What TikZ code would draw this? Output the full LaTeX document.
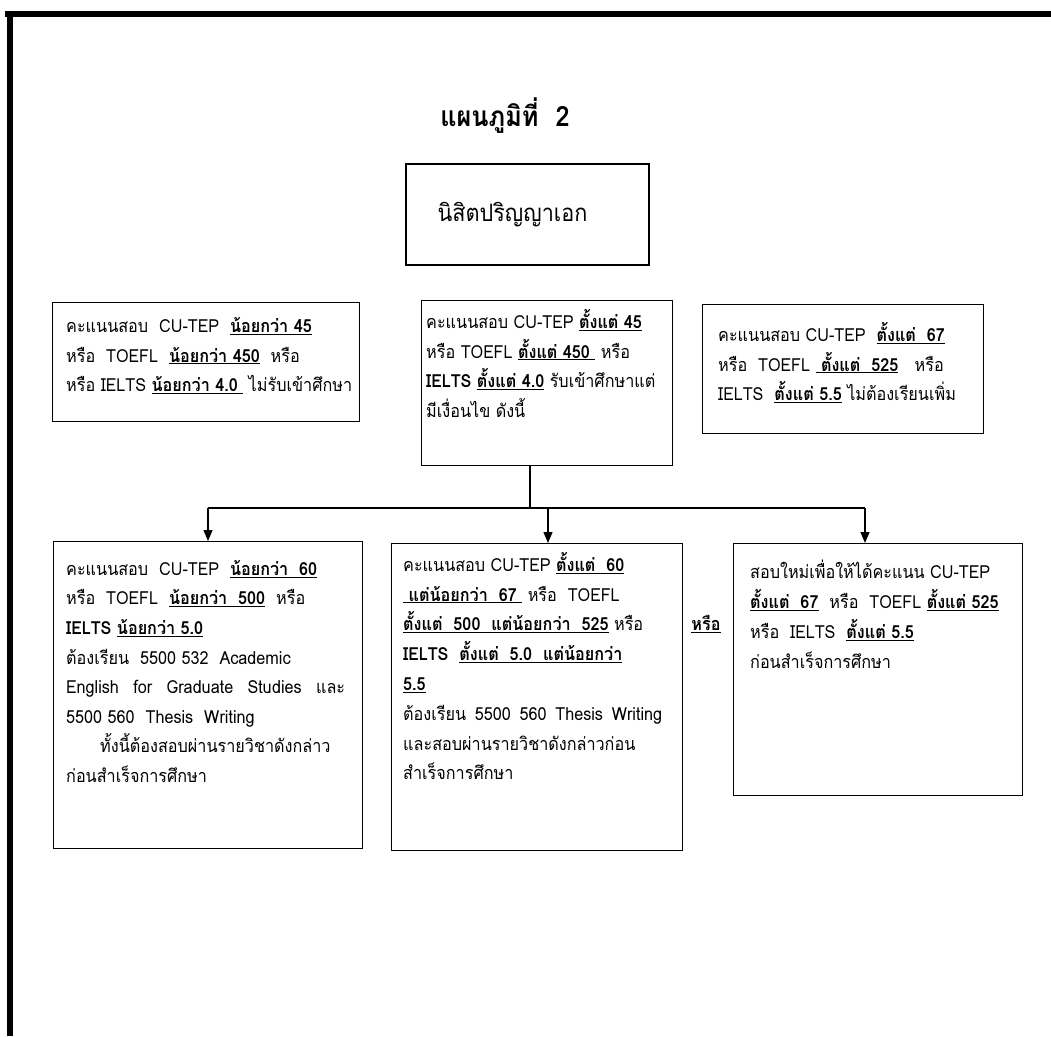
\documentclass[tikz,border=0pt]{standalone}
\usepackage{fontspec}
\setmainfont{Loma}[Script=Thai, FakeStretch=0.9]
\usetikzlibrary{arrows.meta}
\newcommand{\ulb}[1]{\underline{\textbf{#1}}}
\tikzset{
  box/.style={draw, line width=1.3pt, anchor=north west, inner sep=0pt},
  txt/.style={anchor=north west, align=left, inner sep=0pt, font=\fontsize{18}{29.8}\selectfont},
  arr/.style={line width=1.2pt, -{Triangle[length=11pt,width=9pt]}},
}

\begin{document}
\begin{tikzpicture}[x=1pt,y=-1pt]
  \useasboundingbox (0,0) rectangle (1051,1036);
  \fill[white] (0,0) rectangle (1051,1036);
  % scanned frame
  \draw[line width=6pt] (5,14) -- (1051,14);
  \draw[line width=6pt] (10,11) -- (10,1036);

  \node[font=\fontsize{28}{30}\selectfont\bfseries] (title) at (505,116) {แผนภูมิที่~~2};
  \node[box, anchor=center, minimum width=243pt, minimum height=101pt,
        font=\fontsize{24}{26}\selectfont] (phd) at (527.5,214.5) {นิสิตปริญญาเอก\hspace*{30pt}};

  % second row
  \node[box, minimum width=307pt, minimum height=119pt] (low) at (52,302) {};
  \node[txt] (lowtxt) at ([shift={(14,15)}]low.north west)
    {คะแนนสอบ~ CU-TEP~ \ulb{น้อยกว่า 45}\\
     หรือ~ TOEFL~ \ulb{น้อยกว่า 450}~ หรือ\\
     หรือ IELTS \ulb{น้อยกว่า 4.0\ } ไม่รับเข้าศึกษา};
  \node[box, minimum width=251pt, minimum height=165pt] (mid) at (421,300) {};
  \node[txt] (midtxt) at ([shift={(5,9)}]mid.north west)
    {คะแนนสอบ CU-TEP \ulb{ตั้งแต่ 45}\\
     หรือ TOEFL \ulb{ตั้งแต่ 450\ } หรือ\\
     \textbf{IELTS} \ulb{ตั้งแต่ 4.0} รับเข้าศึกษาแต่\\
     มีเงื่อนไข ดังนี้};
  \node[box, minimum width=281pt, minimum height=129pt] (high) at (702,304) {};
  \node[txt] (hightxt) at ([shift={(16,18)}]high.north west)
    {คะแนนสอบ CU-TEP~ \ulb{ตั้งแต่~ 67}\\
     หรือ~ TOEFL \ulb{\ ตั้งแต่~ 525}~~ หรือ\\
     IELTS~ \ulb{ตั้งแต่ 5.5} ไม่ต้องเรียนเพิ่ม};

  % third row
  \node[box, minimum width=309pt, minimum height=307pt] (reqa) at (53,541) {};
  \node[txt, font=\fontsize{18}{29.6}\selectfont] (reqatxt) at ([shift={(13,19)}]reqa.north west)
    {คะแนนสอบ~ CU-TEP~ \ulb{น้อยกว่า~ 60}\\
     หรือ~ TOEFL~ \ulb{น้อยกว่า~ 500}~ หรือ\\
     \textbf{IELTS} \ulb{น้อยกว่า 5.0}\\
     ต้องเรียน~ 5500 532~ Academic\\
     \makebox[279pt][s]{English for Graduate Studies และ}\\
     5500 560~ Thesis~ Writing\\
     \hspace*{34pt}ทั้งนี้ต้องสอบผ่านรายวิชาดังกล่าว\\
     ก่อนสำเร็จการศึกษา};
  \node[box, minimum width=291pt, minimum height=307pt] (reqb) at (391,543) {};
  \node[txt] (reqbtxt) at ([shift={(12,9)}]reqb.north west)
    {คะแนนสอบ CU-TEP \ulb{ตั้งแต่~ 60}\\
     \ulb{\ แต่น้อยกว่า~ 67\ } หรือ~ TOEFL\\
     \ulb{ตั้งแต่~ 500~ แต่น้อยกว่า~ 525} หรือ\\
     \textbf{IELTS}~ \ulb{ตั้งแต่~ 5.0~ แต่น้อยกว่า}\\
     \ulb{5.5}\\
     \makebox[259pt][s]{ต้องเรียน 5500 560 Thesis Writing}\\
     และสอบผ่านรายวิชาดังกล่าวก่อน\\
     สำเร็จการศึกษา};
  \node[font=\fontsize{18}{20}\selectfont] (orlbl) at (706,624) {\ulb{หรือ}};
  \node[box, minimum width=289pt, minimum height=252pt] (retest) at (733,543) {};
  \node[txt] (retesttxt) at ([shift={(17,17)}]retest.north west)
    {สอบใหม่เพื่อให้ได้คะแนน CU-TEP\\
     \ulb{ตั้งแต่~ 67}~ หรือ~ TOEFL \ulb{ตั้งแต่ 525}\\
     หรือ~ IELTS~ \ulb{ตั้งแต่ 5.5}\\
     ก่อนสำเร็จการศึกษา};

  % connectors
  \coordinate (split) at (530,508);
  \coordinate (ja) at (208,508);
  \coordinate (jb) at (548,508);
  \coordinate (jc) at (865,508);
  \draw[line width=1.2pt] (mid.south -| split) -- (split);
  \draw[line width=1.2pt] (ja) -- (jc);
  \draw[arr] (ja) -- (ja |- reqa.north);
  \draw[arr] (jb) -- (jb |- reqb.north);
  \draw[arr] (jc) -- (jc |- retest.north);
\end{tikzpicture}
\end{document}
